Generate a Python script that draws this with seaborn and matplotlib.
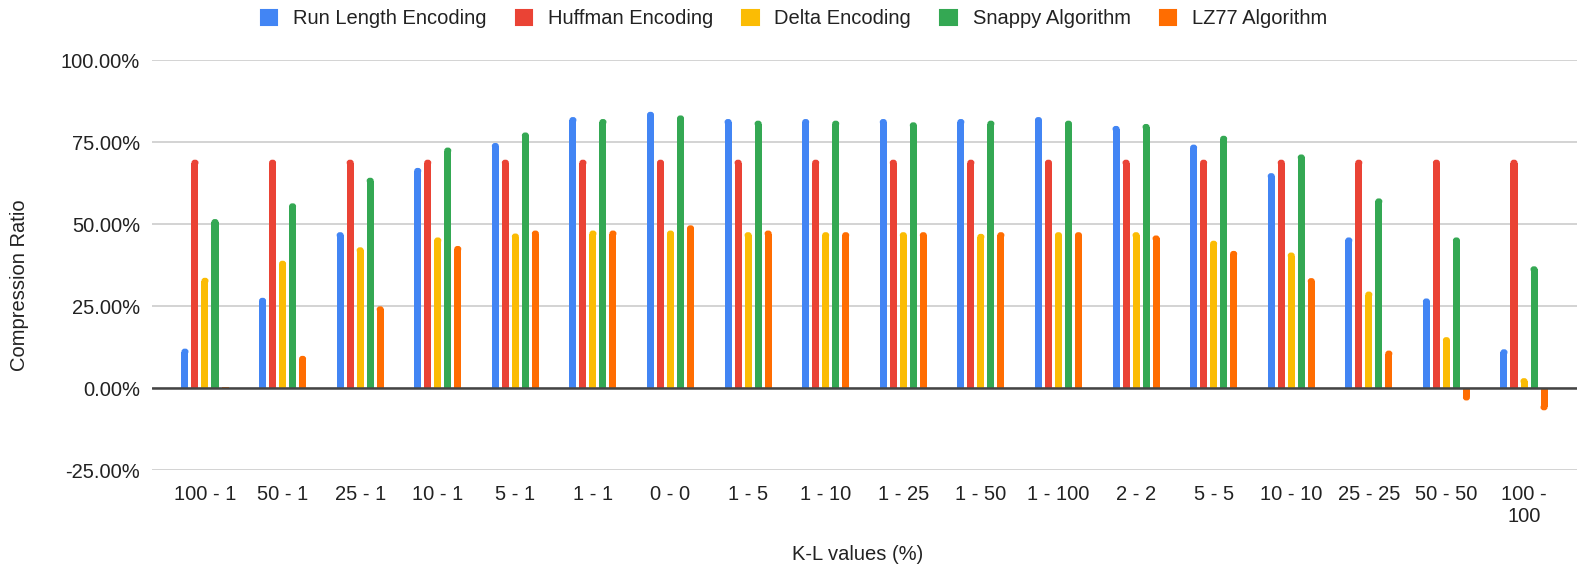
import textwrap

import matplotlib
matplotlib.use("Agg")
import matplotlib.pyplot as plt
from matplotlib.patches import FancyBboxPatch, Patch
from matplotlib.ticker import FixedLocator, FuncFormatter
import pandas as pd
import seaborn as sns

# K-L value pairs (%) on the x axis
categories = ["100 - 1", "50 - 1", "25 - 1", "10 - 1", "5 - 1", "1 - 1", "0 - 0",
              "1 - 5", "1 - 10", "1 - 25", "1 - 50", "1 - 100", "2 - 2", "5 - 5",
              "10 - 10", "25 - 25", "50 - 50", "100 - 100"]

series_names = ["Run Length Encoding", "Huffman Encoding", "Delta Encoding",
                "Snappy Algorithm", "LZ77 Algorithm"]

# Compression ratio (%) per algorithm
run_length = [12.0, 27.5, 47.5, 67.1, 74.7, 82.6, 84.2, 82.0, 82.0, 82.0, 82.0, 82.6,
              79.9, 74.2, 65.5, 45.9, 27.3, 11.8]
huffman = [69.6] * 18
delta = [33.6, 38.8, 42.9, 45.9, 47.1, 48.0, 48.0, 47.5, 47.5, 47.5, 47.0, 47.5,
         47.5, 44.9, 41.3, 29.4, 15.5, 3.0]
snappy = [51.5, 56.3, 64.1, 73.3, 77.9, 82.0, 83.1, 81.5, 81.5, 81.0, 81.5, 81.5,
          80.5, 76.9, 71.2, 57.8, 45.9, 37.1]
lz77 = [0.3, 9.8, 24.9, 43.3, 48.0, 48.0, 49.6, 48.0, 47.5, 47.5, 47.5, 47.5,
        46.5, 41.8, 33.5, 11.4, -3.8, -6.8]

y_ticks = [-25, 0, 25, 50, 75, 100]

colors = ["#4285F4", "#EA4335", "#FBBC04", "#34A853", "#FF6D01"]

series_values = [run_length, huffman, delta, snappy, lz77]
df = pd.DataFrame({
    "K-L values (%)": categories * len(series_names),
    "Algorithm": [name for name in series_names for _ in categories],
    "Compression Ratio": [v for vals in series_values for v in vals],
})

sns.set_theme(style="white")
plt.rcParams["font.family"] = ["Liberation Sans", "DejaVu Sans"]
text_color = "#222222"
font_size = 14.5

W, H = 1580, 575
ax_left, ax_right, ax_top, ax_bottom = 152, 1577, 60, 470
fig = plt.figure(figsize=(W / 100, H / 100), dpi=100)
ax = fig.add_axes([ax_left / W, 1 - ax_bottom / H,
                   (ax_right - ax_left) / W, (ax_bottom - ax_top) / H])

sns.barplot(data=df, x="K-L values (%)", y="Compression Ratio", hue="Algorithm",
            order=categories, hue_order=series_names, palette=colors,
            width=0.645, gap=0.3, errorbar=None, legend=False, ax=ax,
            saturation=1.0, zorder=3)

x_pad = 0.683
ax.set_xlim(-x_pad, len(categories) - 1 + x_pad)
ax.set_ylim(y_ticks[0], y_ticks[-1])

# round the free end of every bar, keeping the base square
px_per_x = (ax_right - ax_left) / (len(categories) - 1 + 2 * x_pad)
px_per_y = (ax_bottom - ax_top) / (y_ticks[-1] - y_ticks[0])
radius_px = 3.0
r_x = radius_px / px_per_x
r_y = radius_px / px_per_y
for rect in list(ax.patches):
    rect.set_linewidth(0)
    h = rect.get_height()
    if abs(h) <= r_y:
        continue
    sign = 1 if h > 0 else -1
    end = rect.get_y() + h
    rect.set_height(h - sign * r_y)
    cap = FancyBboxPatch((rect.get_x(), min(end, end - sign * 2 * r_y)),
                         rect.get_width(), 2 * r_y,
                         boxstyle=f"round,pad=0,rounding_size={r_x}",
                         mutation_aspect=px_per_x / px_per_y,
                         facecolor=rect.get_facecolor(), edgecolor="none",
                         linewidth=0, zorder=3)
    ax.add_patch(cap)

ax.yaxis.set_major_locator(FixedLocator(y_ticks))
ax.yaxis.set_major_formatter(FuncFormatter(lambda v, _: f"{v:.2f}%"))
ax.grid(axis="y", color="#cccccc", linewidth=1.2, zorder=0)
ax.grid(axis="x", visible=False)
ax.axhline(0, color="#444444", linewidth=1.8, zorder=4)
for side in ax.spines.values():
    side.set_visible(False)

ax.set_xticks(range(len(categories)))
ax.set_xticklabels([textwrap.fill(c, 7) for c in categories],
                   fontsize=font_size, color=text_color, linespacing=1.15)
ax.tick_params(axis="x", length=0, pad=11)
ax.tick_params(axis="y", length=0, pad=8.5, labelsize=font_size, labelcolor=text_color)

ax.set_xlabel("K-L values (%)", fontsize=font_size, color=text_color, va="center")
ax.xaxis.set_label_coords((858 - ax_left) / (ax_right - ax_left),
                          (ax_bottom - 555) / (ax_bottom - ax_top))
ax.set_ylabel("Compression Ratio", fontsize=font_size, color=text_color, va="center")
ax.yaxis.set_label_coords((20 - ax_left) / (ax_right - ax_left),
                          (ax_bottom - 285) / (ax_bottom - ax_top))

handles = [Patch(facecolor=c, edgecolor=c, linewidth=1.5, joinstyle="round")
           for c in colors]
fig.legend(handles, series_names, loc="center", bbox_to_anchor=(794 / W, 1 - 19 / H),
           ncol=5, frameon=False, fontsize=font_size, handlelength=0.82,
           handleheight=0.82, handletextpad=0.78, columnspacing=1.45,
           labelcolor=text_color)

fig.savefig("out.png", dpi=100, facecolor="white")
